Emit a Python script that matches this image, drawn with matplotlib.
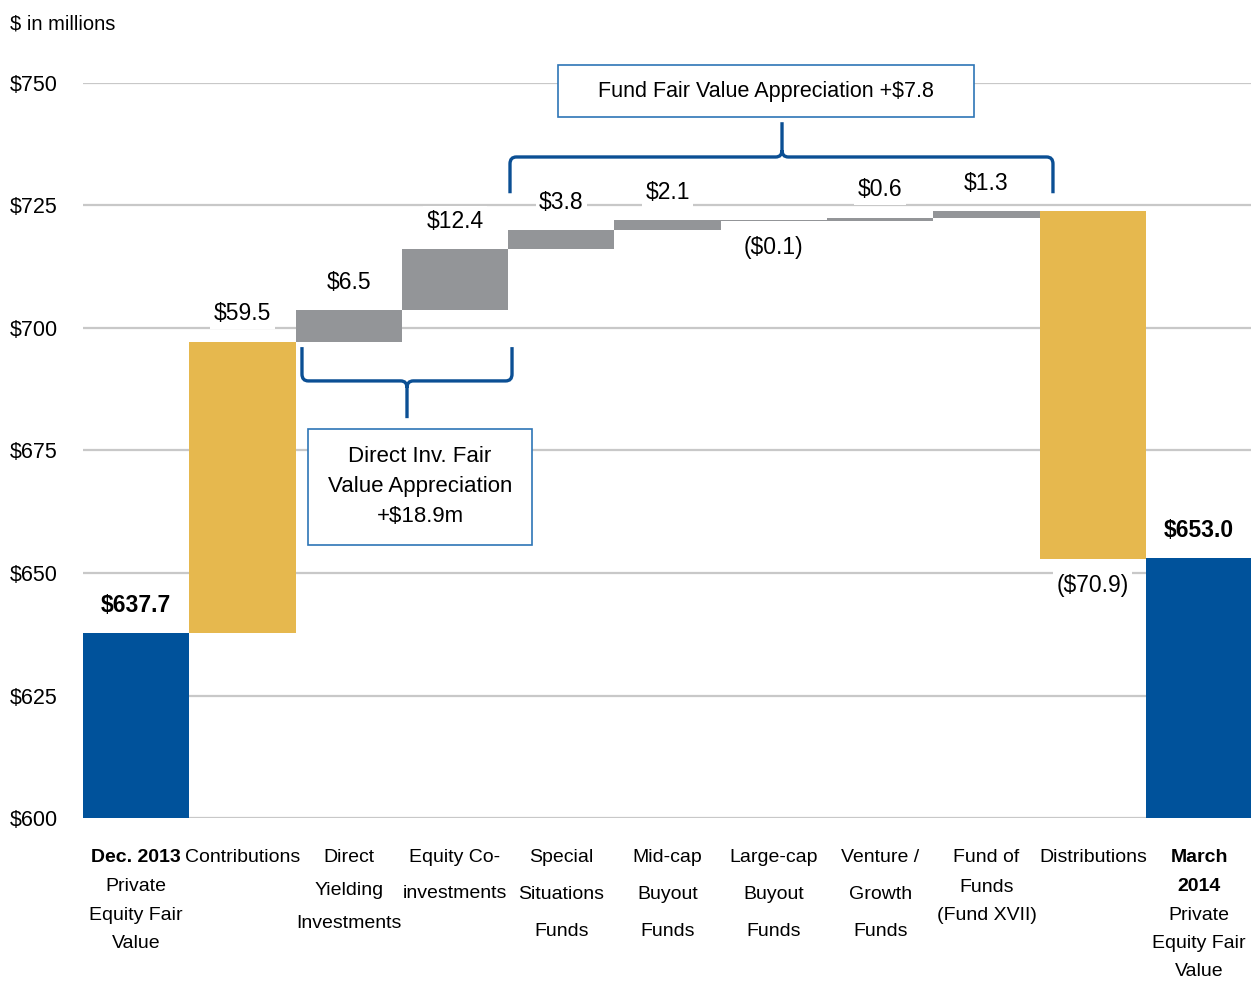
import numpy as np
import matplotlib
matplotlib.use("Agg")
import matplotlib.pyplot as plt
from matplotlib.path import Path
from matplotlib.patches import PathPatch, Rectangle

plt.rcParams['font.family'] = ['Liberation Sans', 'DejaVu Sans']

# data
categories = [
    ["Dec. 2013", "Private", "Equity Fair", "Value"],
    ["Contributions"],
    ["Direct", "Yielding", "Investments"],
    ["Equity Co-", "investments"],
    ["Special", "Situations", "Funds"],
    ["Mid-cap", "Buyout", "Funds"],
    ["Large-cap", "Buyout", "Funds"],
    ["Venture /", "Growth", "Funds"],
    ["Fund of", "Funds", "(Fund XVII)"],
    ["Distributions"],
    ["March", "2014", "Private", "Equity Fair", "Value"],
]
start_value = 637.7
changes = [59.5, 6.5, 12.4, 3.8, 2.1, -0.1, 0.6, 1.3, -70.9]
end_value = 653.0
change_kind = ["flow", "fv", "fv", "fv", "fv", "fv", "fv", "fv", "flow"]
yticks = [600, 625, 650, 675, 700, 725, 750]
direct_note = "Direct Inv. Fair\nValue Appreciation\n+$18.9m"
fund_note = "Fund Fair Value Appreciation +$7.8"

# style
BLUE = "#00529B"
GOLD = "#E6B84E"
GRAY = "#939598"
BRACE = "#0B4F94"
BOXEDGE = "#2E75B6"
GRID = "#C8C8C8"
bold_lines = [1, 0, 0, 0, 0, 0, 0, 0, 0, 0, 2]
line_gap = [28.5, 0, 33, 36, 36.5, 36.5, 36.5, 36.5, 29, 0, 28.5]  # px between lines

fig = plt.figure(figsize=(12.51, 9.81), dpi=100)
ax = fig.add_axes([83 / 1251, 1 - 818 / 981, 1 - 83 / 1251, (818 - 83) / 981])
ax.set_xlim(-0.5, 10.488)
ax.set_ylim(600, 750)

for s in ax.spines.values():
    s.set_visible(False)
ax.set_yticks(yticks)
ax.set_yticklabels([f"${t}" for t in yticks], fontsize=15.5)
ax.tick_params(axis='y', length=0, pad=18)
ax.set_xticks([])
for t in yticks:
    ax.axhline(t, color=GRID, lw=1.6, zorder=0)

# waterfall
n = len(categories)
xs = np.arange(n)
bottoms, heights, colors = [600], [start_value - 600], [BLUE]
level = start_value
for c, k in zip(changes, change_kind):
    bottoms.append(min(level, level + c))
    heights.append(abs(c))
    colors.append(GOLD if k == "flow" else GRAY)
    level += c
bottoms.append(600)
heights.append(end_value - 600)
colors.append(BLUE)
ax.bar(xs, heights, bottom=bottoms, width=1.0, color=colors, zorder=2)

# value labels
vals = [start_value] + changes + [end_value]
for i, v in enumerate(vals):
    bold = i in (0, n - 1)
    if v >= 0:
        txt = f"${v:.1f}"
        y, off = bottoms[i] + heights[i], 20
    else:
        txt = f"(${-v:.1f})"
        y, off = bottoms[i], -19
    ax.annotate(txt, (xs[i], y), xytext=(0, off), textcoords='offset points',
                ha='center', va='center', fontsize=16.5,
                fontweight='bold' if bold else 'normal', zorder=4,
                bbox=dict(boxstyle='square,pad=0.15', fc='white', ec='none'))

# category labels
for i, lines in enumerate(categories):
    for j, line in enumerate(lines):
        off_px = 40 + j * line_gap[i]
        ax.annotate(line, (xs[i], 0), xycoords=('data', 'axes fraction'),
                    xytext=(0, -off_px * 0.72), textcoords='offset points',
                    ha='center', va='center', fontsize=14,
                    fontweight='bold' if j < bold_lines[i] else 'normal',
                    annotation_clip=False)

fig.text(10 / 1251, 1 - 24 / 981, "$ in millions", fontsize=14.5, va='center', ha='left')


def brace(x0, x1, xt, ye, ym, yt, rx=0.06, ry=1.4):
    s = 1 if yt < ym else -1  # tip direction
    verts = [(x0, ye), (x0, ym + s * ry), (x0, ym), (x0 + rx, ym),
             (xt - rx, ym), (xt, ym), (xt, ym - s * ry), (xt, yt),
             (xt, ym - s * ry), (xt, ym), (xt + rx, ym),
             (x1 - rx, ym), (x1, ym), (x1, ym + s * ry), (x1, ye)]
    codes = [Path.MOVETO, Path.LINETO, Path.CURVE3, Path.CURVE3,
             Path.LINETO, Path.CURVE3, Path.CURVE3, Path.LINETO,
             Path.MOVETO, Path.CURVE3, Path.CURVE3,
             Path.LINETO, Path.CURVE3, Path.CURVE3, Path.LINETO]
    ax.add_patch(PathPatch(Path(verts, codes), fc='none', ec=BRACE, lw=2.4,
                           zorder=5, clip_on=False, capstyle='butt'))


brace(1.56, 3.536, 2.548, 696.1, 689.2, 681.6)
brace(3.517, 8.625, 6.076, 727.5, 734.9, 742.0)

ax.add_patch(Rectangle((1.617, 655.7), 2.107, 23.7, fc='white', ec=BOXEDGE,
                       lw=1.2, zorder=5, clip_on=False))
ax.text(2.670, 667.6, direct_note, ha='center', va='center', fontsize=16,
        linespacing=1.55, zorder=6)
ax.add_patch(Rectangle((3.969, 743.1), 3.913, 10.6, fc='white', ec=BOXEDGE,
                       lw=1.2, zorder=5, clip_on=False))
ax.text(5.925, 748.3, fund_note, ha='center', va='center', fontsize=15.5,
        zorder=6, clip_on=False)

fig.savefig("out.png", dpi=100)
